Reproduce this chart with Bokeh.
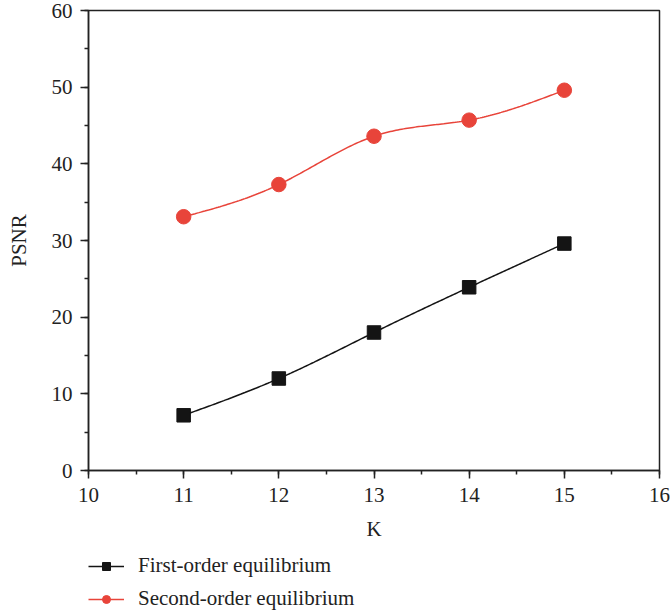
import numpy as np
from bokeh.plotting import figure
from bokeh.layouts import column
from bokeh.models import SingleIntervalTicker, Legend, LegendItem, Range1d
from bokeh.embed import file_html
from bokeh.resources import INLINE

k_values = [11, 12, 13, 14, 15]
first_order = [7.2, 12.0, 18.0, 23.9, 29.6]
second_order = [33.1, 37.3, 43.6, 45.7, 49.6]
series_names = ["First-order equilibrium", "Second-order equilibrium"]

FONT = "Liberation Serif"
RED = "#E8443A"
BLACK = "#141414"


def natural_spline(x, y, n=200):
    x = np.asarray(x, float)
    y = np.asarray(y, float)
    m = len(x)
    h = np.diff(x)
    A = np.zeros((m, m))
    b = np.zeros(m)
    A[0, 0] = 1
    A[-1, -1] = 1
    for i in range(1, m - 1):
        A[i, i - 1] = h[i - 1]
        A[i, i] = 2 * (h[i - 1] + h[i])
        A[i, i + 1] = h[i]
        b[i] = 3 * ((y[i + 1] - y[i]) / h[i] - (y[i] - y[i - 1]) / h[i - 1])
    c = np.linalg.solve(A, b)
    xs = np.linspace(x[0], x[-1], n)
    ys = np.empty_like(xs)
    for j, xv in enumerate(xs):
        i = min(np.searchsorted(x, xv, side="right") - 1, m - 2)
        dx = xv - x[i]
        bb = (y[i + 1] - y[i]) / h[i] - h[i] * (2 * c[i] + c[i + 1]) / 3
        dd = (c[i + 1] - c[i]) / (3 * h[i])
        ys[j] = y[i] + bb * dx + c[i] * dx ** 2 + dd * dx ** 3
    return xs, ys


p = figure(width=671, height=545, output_backend="svg", toolbar_location=None,
           x_range=Range1d(10, 16), y_range=Range1d(0, 60),
           min_border_left=88, min_border_right=12, min_border_top=10,
           min_border_bottom=75)
p.grid.visible = False
p.outline_line_color = "#222222"
p.outline_line_width = 1.5
p.background_fill_color = "white"
p.border_fill_color = "white"

for ax in (p.xaxis[0], p.yaxis[0]):
    ax.axis_line_width = 1.5
    ax.axis_line_color = "#222222"
    ax.major_tick_line_width = 1.5
    ax.minor_tick_line_width = 1.5
    ax.major_tick_line_color = "#222222"
    ax.minor_tick_line_color = "#222222"
    ax.major_tick_out = 8
    ax.major_tick_in = 0
    ax.minor_tick_out = 4
    ax.minor_tick_in = 0
    ax.major_label_text_font = FONT
    ax.major_label_text_font_size = "21px"
    ax.major_label_text_color = "#222222"
    ax.axis_label_text_font = FONT
    ax.axis_label_text_font_size = "21px"
    ax.axis_label_text_font_style = "normal"
    ax.axis_label_text_color = "#222222"

p.xaxis[0].ticker = SingleIntervalTicker(interval=1, num_minor_ticks=2)
p.yaxis[0].ticker = SingleIntervalTicker(interval=10, num_minor_ticks=2)
p.xaxis.axis_label = "K"
p.yaxis.axis_label = "PSNR"
p.xaxis.major_label_standoff = 9
p.xaxis.axis_label_standoff = 12
p.yaxis.major_label_standoff = 8
p.yaxis.axis_label_standoff = 18

xs1, ys1 = natural_spline(k_values, first_order)
xs2, ys2 = natural_spline(k_values, second_order)

line_style1 = dict(line_color=BLACK, line_width=1.5)
mark_style1 = dict(marker="square", size=13.5, fill_color=BLACK, line_color=BLACK)
line_style2 = dict(line_color=RED, line_width=1.5)
mark_style2 = dict(marker="circle", size=14.5, fill_color=RED, line_color=RED)

p.line(xs1, ys1, **line_style1)
p.scatter(k_values, first_order, **mark_style1)
p.line(xs2, ys2, **line_style2)
p.scatter(k_values, second_order, **mark_style2)

# legend panel below the chart: same series, but its ranges keep them out of view
q = figure(width=671, height=70, output_backend="svg", toolbar_location=None,
           min_border_left=88, min_border_right=0, min_border_top=8,
           min_border_bottom=0, x_range=Range1d(0, 1), y_range=Range1d(0, 1))
q.axis.visible = False
q.grid.visible = False
q.outline_line_color = None
q.border_fill_color = "white"
ql1 = q.line(k_values, first_order, **line_style1)
qm1 = q.scatter(k_values, first_order, **mark_style1)
ql2 = q.line(k_values, second_order, **line_style2)
qm2 = q.scatter(k_values, second_order, **mark_style2)

legend = Legend(items=[LegendItem(label=series_names[0], renderers=[ql1, qm1]),
                       LegendItem(label=series_names[1], renderers=[ql2, qm2])],
                location="top_left", orientation="vertical",
                border_line_color=None, background_fill_alpha=0,
                label_text_font=FONT, label_text_font_size="21px",
                label_text_color="#222222",
                glyph_width=36, glyph_height=20, label_height=20,
                spacing=8, padding=0, margin=0, label_standoff=14)
q.add_layout(legend, "center")

layout = column(p, q, spacing=0)
open("out.html", "w").write(file_html(layout, INLINE))
